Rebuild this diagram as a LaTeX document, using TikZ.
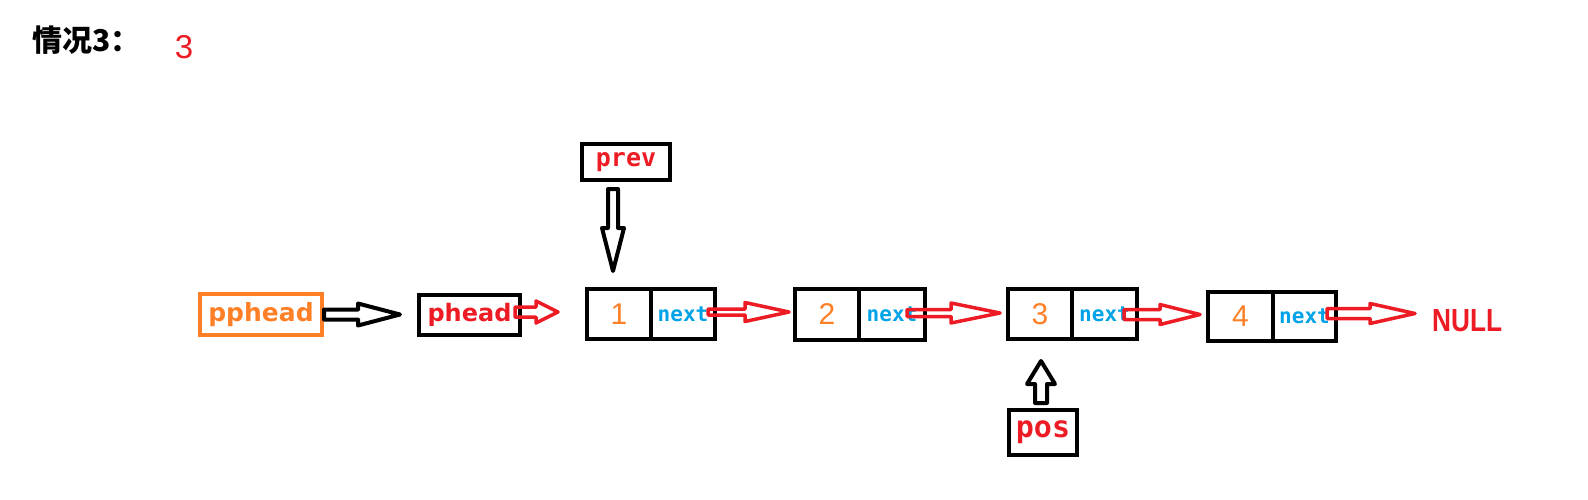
\documentclass[tikz,border=0pt]{standalone}
\usepackage{fontspec}
\usepackage{graphicx}
\usetikzlibrary{calc}
\newfontfamily\cjkfont{Noto Sans CJK SC}
\newfontfamily\dvsans{DejaVu Sans}
\newfontfamily\dvmono{DejaVu Sans Mono}
\newfontfamily\libsans{Liberation Sans}
\definecolor{pred}{HTML}{ED1C24}
\definecolor{porange}{HTML}{FF7F27}
\definecolor{pblue}{HTML}{00A2E8}
% horizontal block arrow: style, start, tip, head length, shaft half, head half
\newcommand\harr[6]{%
  \draw[#1] let \p1=(#2), \p2=(#3) in
    (\x1,{\y1+#5pt}) -- ({\x2-#4pt},{\y1+#5pt}) -- ({\x2-#4pt},{\y1+#6pt}) -- (\x2,\y1)
    -- ({\x2-#4pt},{\y1-#6pt}) -- ({\x2-#4pt},{\y1-#5pt}) -- (\x1,{\y1-#5pt}) -- cycle;}
% vertical block arrow: style, start, tip, head length, shaft half, head half
\newcommand\varr[6]{%
  \draw[#1] let \p1=(#2), \p2=(#3), \n1={sign(\y2-\y1)} in
    ({\x1-#5pt},\y1) -- ({\x1-#5pt},{\y2-\n1*#4pt}) -- ({\x1-#6pt},{\y2-\n1*#4pt}) -- (\x1,\y2)
    -- ({\x1+#6pt},{\y2-\n1*#4pt}) -- ({\x1+#5pt},{\y2-\n1*#4pt}) -- ({\x1+#5pt},\y1) -- cycle;}
\begin{document}
\begin{tikzpicture}[x=1pt,y=-1pt,
  box/.style={draw,line width=4pt,inner sep=0pt},
  cellv/.style={box,minimum width=64pt,minimum height=50pt,text=porange,
    font=\libsans\fontsize{30}{30}\selectfont},
  celln/.style={box,minimum width=64pt,minimum height=50pt,text=pblue,
    font=\dvmono\bfseries\fontsize{21}{21}\selectfont},
  blackarr/.style={draw=black,line width=4pt,line join=round},
  redarr/.style={draw=pred,line width=3.5pt,line join=round}]
\useasboundingbox (0,0) rectangle (1588,499);
% title
\node[anchor=west,inner sep=0pt,font=\cjkfont\bfseries\fontsize{30}{30}\selectfont] (title) at (32,40) {情况3：};
\node[inner sep=0pt,text=pred,font=\libsans\fontsize{33}{33}\selectfont] (num) at (184,47) {3};
% pointers
\node[box,draw=porange,minimum width=122pt,minimum height=41pt,text=porange,
  font=\dvsans\bfseries\fontsize{25}{25}\selectfont] (pphead) at (261,314.5) {pphead};
\node[box,minimum width=101pt,minimum height=40pt,text=pred,
  font=\dvsans\bfseries\fontsize{24}{24}\selectfont] (phead) at (469.5,315) {phead};
\node[box,minimum width=88pt,minimum height=36pt,text=pred,
  font=\dvmono\bfseries\fontsize{25}{25}\selectfont] (prev) at (626,162) {prev};
\node[box,minimum width=68pt,minimum height=45pt,text=pred,
  font=\dvmono\bfseries\fontsize{30}{30}\selectfont] (pos) at (1043,432.5) {pos};
% list nodes
\node[cellv] (n1v) at (619,314) {1};
\node[celln] (n1n) at (683,314) {next};
\node[cellv,minimum height=51pt] (n2v) at (827,314.5) {2};
\node[celln,minimum width=66pt,minimum height=51pt] (n2n) at (892,314.5) {next};
\node[cellv] (n3v) at (1040,314) {3};
\node[celln,minimum width=65pt] (n3n) at (1104.5,314) {next};
\node[cellv,minimum width=65pt,minimum height=49pt] (n4v) at (1240.5,316.5) {4};
\node[celln,minimum width=63pt,minimum height=49pt] (n4n) at (1304.5,316.5) {next};
\node[inner sep=0pt,anchor=west,text=pred,font=\libsans\bfseries\fontsize{32}{32}\selectfont] (null) at (1432,321)
  {\scalebox{0.82}[1]{NULL}};
% connectors
\harr{blackarr}{pphead.east}{$(phead.west)+(-17,0)$}{42}{5}{11}
\harr{redarr}{$(phead.east)+(-7,-3)$}{$(n1v.west)+(-27,0)$}{22}{5}{11}
\harr{redarr}{$(n1n.east)+(-9,-2)$}{$(n2v.west)+(-4,0)$}{44}{3}{9.5}
\harr{redarr}{$(n2n.east)+(-20,-1.5)$}{$(n3v.west)+(-6,0)$}{49}{3.5}{10}
\harr{redarr}{$(n3n.east)+(-15,0.5)$}{$(n4v.west)+(-6,0)$}{40}{5}{10}
\harr{redarr}{$(n4n.east)+(-11,-3)$}{$(null.west)+(-17,0)$}{45}{5}{10}
\varr{blackarr}{$(prev.south)+(-13,7)$}{$(n1v.north)+(-6,-16)$}{43}{5}{11}
\varr{blackarr}{$(pos.north)+(-2,-5)$}{$(n3v.south)+(0,20)$}{23}{6}{14}
\end{tikzpicture}
\end{document}
